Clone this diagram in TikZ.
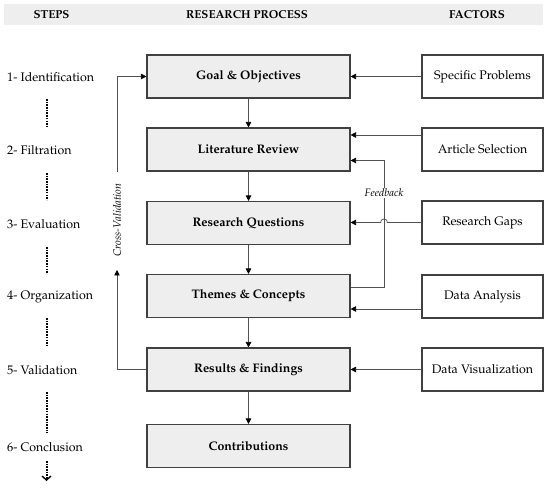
\documentclass[tikz,border=0pt]{standalone}
\usepackage[T1]{fontenc}
\renewcommand{\rmdefault}{ppl}
\usetikzlibrary{arrows.meta}
\begin{document}
\begin{tikzpicture}[x=1pt,y=-1pt,
  mainbox/.style={draw=black!75, line width=1.1pt, fill=gray!13, minimum width=203pt, minimum height=43pt, inner sep=0pt, font=\bfseries\fontsize{12.4}{14}\selectfont},
  factorbox/.style={draw=black!75, line width=1.1pt, fill=white, minimum width=121pt, minimum height=43pt, inner sep=0pt, font=\fontsize{12.4}{14}\selectfont},
  steplabel/.style={anchor=west, inner sep=0pt, font=\fontsize{12.4}{14}\selectfont},
  headlabel/.style={inner sep=0pt, font=\bfseries\fontsize{11.5}{13}\selectfont},
  conn/.style={draw=black!68, line width=0.75pt},
  arr/.style={conn, -{Triangle[length=5.5pt,width=5.5pt,color=black,fill=black]}},
  dots/.style={line width=2pt, dash pattern=on 1.6pt off 1.1pt},
  italiclabel/.style={inner sep=1pt, font=\itshape\fontsize{10.8}{12}\selectfont}]

\useasboundingbox (0,0) rectangle (550,489);

% header band
\fill[gray!13] (4,4) rectangle (543,25);
\node[headlabel] (h1) at (51.5,15) {STEPS};
\node[headlabel] (h2) at (247,15) {RESEARCH PROCESS};
\node[headlabel] (h3) at (477,15) {FACTORS};

% main process boxes
\node[mainbox] (m1) at (248.5,76.5) {Goal \& Objectives};
\node[mainbox] (m2) at (248.5,149.5) {Literature Review};
\node[mainbox] (m3) at (248.5,223) {Research Questions};
\node[mainbox] (m4) at (248.5,296) {Themes \& Concepts};
\node[mainbox] (m5) at (248.5,369.5) {Results \& Findings};
\node[mainbox] (m6) at (248.5,446) {Contributions};

% factor boxes
\node[factorbox] (f1) at (482.5,76.5) {Specific Problems};
\node[factorbox] (f2) at (482.5,149.5) {Article Selection};
\node[factorbox] (f3) at (482.5,222.5) {Research Gaps};
\node[factorbox] (f4) at (482.5,296.5) {Data Analysis};
\node[factorbox] (f5) at (482.5,369.5) {Data Visualization};

% steps
\node[steplabel] (s1) at (7,77) {1- Identification};
\node[steplabel] (s2) at (7,150) {2- Filtration};
\node[steplabel] (s3) at (7,224) {3- Evaluation};
\node[steplabel] (s4) at (7,297) {4- Organization};
\node[steplabel] (s5) at (7,370) {5- Validation};
\node[steplabel] (s6) at (7,447) {6- Conclusion};

% dotted step connectors
\coordinate (d1a) at (46.5,99);  \coordinate (d1b) at (46.5,127);
\coordinate (d2a) at (46.5,173); \coordinate (d2b) at (46.5,200);
\coordinate (d3a) at (46.5,247); \coordinate (d3b) at (46.5,274);
\coordinate (d4a) at (46.5,318); \coordinate (d4b) at (46.5,346);
\coordinate (d5a) at (46.5,392); \coordinate (d5b) at (46.5,433);
\coordinate (d6a) at (46.5,461); \coordinate (d6b) at (46.5,481);
\draw[dots] (d1a) -- (d1b);
\draw[dots] (d2a) -- (d2b);
\draw[dots] (d3a) -- (d3b);
\draw[dots] (d4a) -- (d4b);
\draw[dots] (d5a) -- (d5b);
\draw[dots, -{Straight Barb[length=4pt,width=9pt,line width=1.4pt]}] (d6a) -- (d6b);

% vertical flow
\draw[arr] (m1) -- (m2);
\draw[arr] (m2) -- (m3);
\draw[arr] (m3) -- (m4);
\draw[arr] (m4) -- (m5);
\draw[arr] (m5) -- (m6);

% factor arrows
\draw[arr] (f1.west) -- (m1.east);
\draw[arr] ([yshift=14.5pt]f2.west) -- ([yshift=14.5pt]f2.west -| m2.east);
\coordinate (fb) at (384,0);
\draw[arr] (f3.west) -- ([xshift=3.5pt]f3.west -| fb)
  arc[start angle=0,end angle=180,radius=3.5pt] -- (f3.west -| m3.east);
\draw[arr] ([yshift=-12.5pt]f4.west) -- ([yshift=-12.5pt]f4.west -| m4.east);
\draw[arr] (f5.west) -- (m5.east);

% feedback loop
\draw[arr] ([yshift=9pt]m4.east) -- ([yshift=9pt]m4.east -| fb)
  -- ([yshift=-11pt]m2.east -| fb) -- ([yshift=-11pt]m2.east);
\node[italiclabel, fill=white] (fbl) at (384,193) {Feedback};

% cross-validation loop
\coordinate (cvlow) at (117,270);
\coordinate (cvhigh) at (117,172);
\draw[arr] (m5.west) -| (cvlow);
\draw[arr] (cvhigh) |- (m1.west);
\node[italiclabel, rotate=90] (cvl) at (117,220) {Cross-Validation};
\end{tikzpicture}
\end{document}
